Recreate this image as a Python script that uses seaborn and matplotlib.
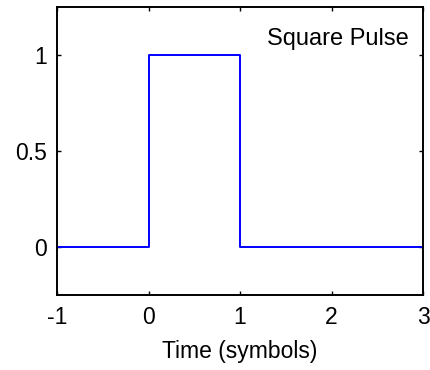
import matplotlib
matplotlib.use("Agg")
import matplotlib.pyplot as plt
import seaborn as sns
import pandas as pd

time = [-1, 0, 0, 1, 1, 3]
amplitude = [0, 0, 1, 1, 0, 0]
xticks = [-1, 0, 1, 2, 3]
yticks = [0, 0.5, 1]
title_text = "Square Pulse"
xlabel_text = "Time (symbols)"

sns.set_style("ticks")
plt.rcParams['font.family'] = ['Liberation Sans', 'DejaVu Sans']
plt.rcParams['text.color'] = 'black'
plt.rcParams['axes.labelcolor'] = 'black'

fig = plt.figure(figsize=(4.3, 3.7), dpi=100)
ax = fig.add_axes([57/430, 75/370, 366/430, 288/370])

df = pd.DataFrame({"t": time, "a": amplitude})
sns.lineplot(data=df, x="t", y="a", ax=ax, sort=False, estimator=None,
             color=(0, 0, 1), linewidth=1.4)

ax.set_xlim(-1, 3)
ax.set_ylim(-0.25, 1.25)
ax.set_xticks(xticks)
ax.set_xticklabels([str(v) for v in xticks])
ax.set_yticks(yticks)
ax.set_yticklabels(["0", "0.5", "1"])
ax.tick_params(direction="in", top=True, right=True, length=3, width=1.0,
               labelsize=16.5, colors="black", labelcolor="black")
ax.tick_params(axis="x", pad=8)
ax.tick_params(axis="y", pad=7)
for s in ax.spines.values():
    s.set_visible(True)
    s.set_linewidth(1.4)
    s.set_color("black")
ax.set_xlabel(xlabel_text, fontsize=16.5, labelpad=8, color="black")
ax.set_ylabel("")
ax.text(2.84, 1.085, title_text, ha="right", va="center", fontsize=17,
        color="black")

fig.savefig("out.png", dpi=100)
